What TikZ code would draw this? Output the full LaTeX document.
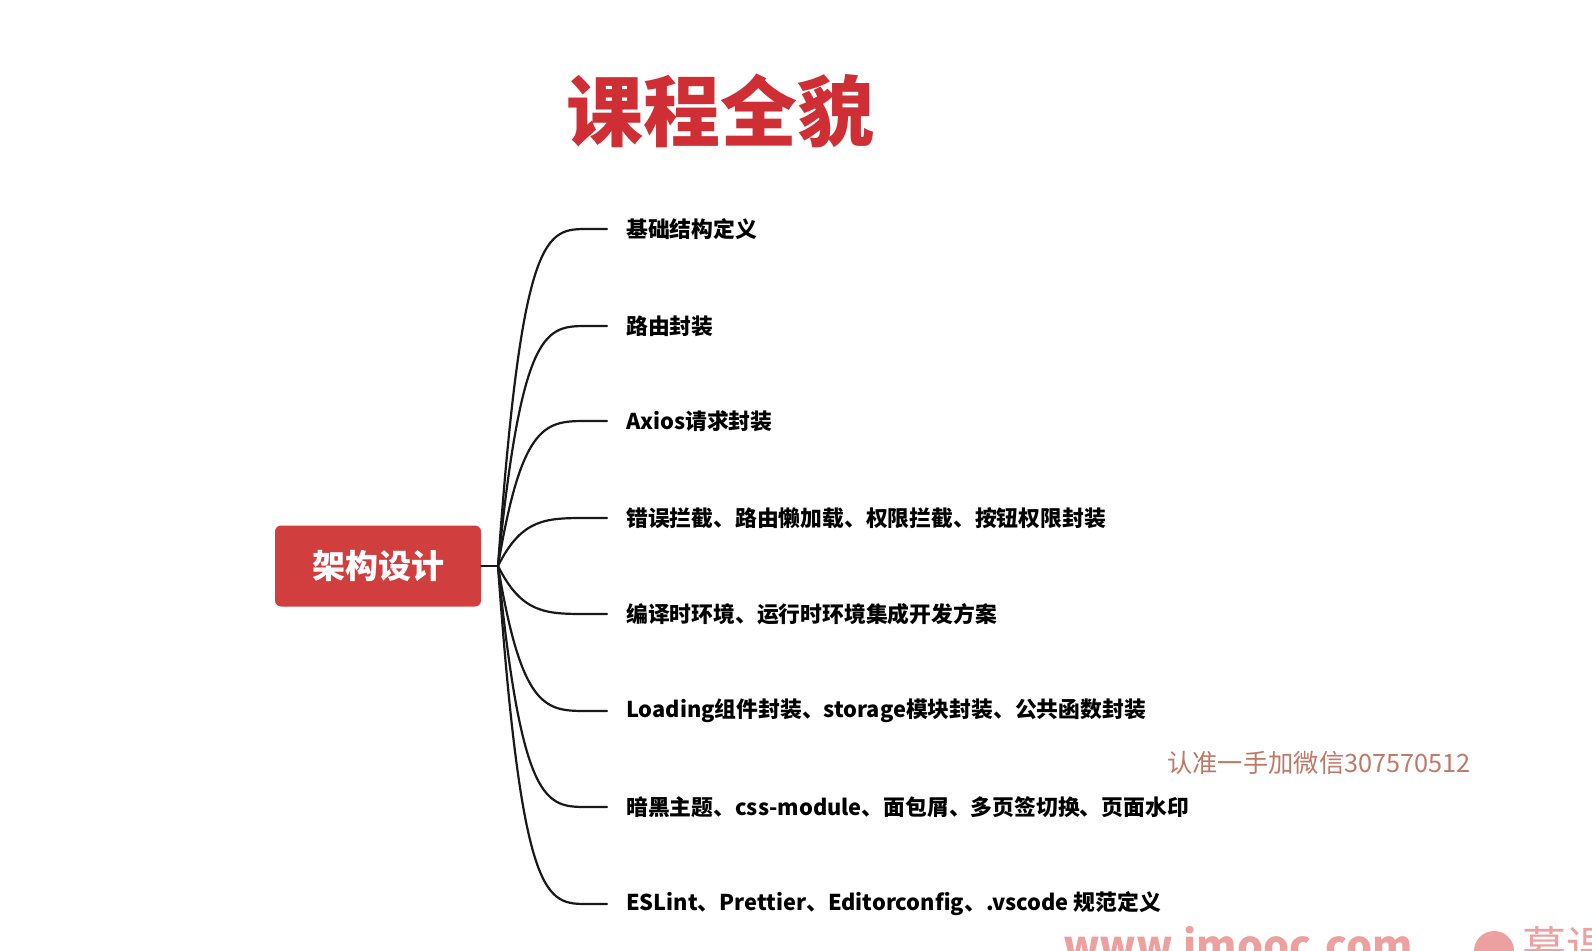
\documentclass[tikz,border=0pt]{standalone}
\usepackage{fontspec}
\newfontfamily\cjk{Noto Sans CJK SC}
\usetikzlibrary{calc}
\definecolor{titlered}{RGB}{206,46,52}
\definecolor{rootred}{RGB}{209,62,62}
\definecolor{wmbrown}{RGB}{192,120,104}
\definecolor{wmpink}{RGB}{236,160,160}
\definecolor{linec}{RGB}{25,25,25}
\begin{document}
\begin{tikzpicture}[x=1pt,y=-1pt,
  rootbox/.style={fill=rootred,rounded corners=6pt,minimum width=206pt,minimum height=81pt,inner sep=0pt,text=white,font=\cjk\bfseries\fontsize{33}{36}\selectfont},
  leaf/.style={anchor=west,inner sep=0pt,text=black,font=\cjk\bfseries\fontsize{21.8}{24}\selectfont},
  branch/.style={draw=linec,line width=2.2pt,line cap=round}]
\useasboundingbox (0,0) rectangle (1592,950);
\fill[white] (0,0) rectangle (1592,950);
\begin{scope}
\clip (0,0) rectangle (1592,950);
\node[text=titlered,font=\cjk\bfseries\fontsize{77}{80}\selectfont,inner sep=0pt] (title) at (720,111) {课程全貌};
\node[text=wmbrown,font=\cjk\fontsize{25.3}{28}\selectfont,anchor=west,inner sep=0pt] (wm) at (1167,763) {认准一手加微信307570512};
\node[text=wmpink,font=\cjk\bfseries\fontsize{41}{44}\selectfont,anchor=north west,inner sep=0pt] (imooc) at (1063,926) {www.imooc.com};
\fill[wmpink] (1494,951) circle (20pt);
\node[text=wmpink,font=\cjk\fontsize{44}{48}\selectfont,anchor=north west,inner sep=0pt] (mk) at (1522,926) {慕课网};

\node[rootbox] (root) at (378,566) {架构设计};
\coordinate (hub) at (498,566);
\node[leaf] (l1) at (626,229) {基础结构定义};
\node[leaf] (l2) at (626,326) {路由封装};
\node[leaf] (l3) at (626,421) {Axios请求封装};
\node[leaf] (l4) at (626,518) {错误拦截、路由懒加载、权限拦截、按钮权限封装};
\node[leaf] (l5) at (626,614) {编译时环境、运行时环境集成开发方案};
\node[leaf] (l6) at (626,711) {Loading组件封装、storage模块封装、公共函数封装};
\node[leaf] (l7) at (626,807) {暗黑主题、css-module、面包屑、多页签切换、页面水印};
\node[leaf] (l8) at (626,904) {ESLint、Prettier、Editorconfig、.vscode 规范定义};

\draw[branch] (root.east) -- (hub);
\foreach \n in {l1,l2,l3,l4,l5,l6,l7,l8}{
  \draw[branch] (hub) .. controls ($(hub|-\n.west)+(24,0)$) and ($(hub|-\n.west)+(48,0)$) .. ($(\n.west)+(-38,0)$) -- ($(\n.west)+(-19,0)$);
}
\end{scope}
\end{tikzpicture}
\end{document}
